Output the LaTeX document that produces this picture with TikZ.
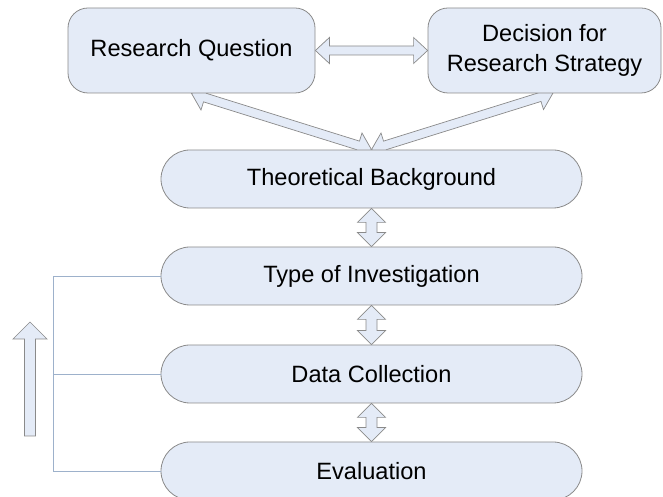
\documentclass[tikz,border=0pt]{standalone}
\usepackage{fontspec}
\setmainfont{Liberation Sans}
\usetikzlibrary{calc}
\definecolor{boxfill}{HTML}{E4EBF7}
\definecolor{boxline}{HTML}{8A8A8A}
\definecolor{fbline}{HTML}{9DB1CB}
\pgfdeclarelayer{bg}
\pgfsetlayers{bg,main}
\tikzset{
  box/.style={draw=boxline, fill=boxfill, line width=0.8pt, inner sep=0pt,
    font=\fontsize{23.6}{30.5}\selectfont, align=center},
  pill/.style={box, minimum width=421pt, minimum height=58pt, rounded corners=29pt},
  topbox/.style={box, minimum height=85pt, rounded corners=20pt},
  blockarr/.style={draw=boxline, fill=boxfill, line width=0.7pt, line join=miter},
  fb/.style={draw=fbline, line width=0.8pt}
}
\newcommand{\dblarrow}[4]{% from, to, shaft half width, head half width
  \path[blockarr] let \p1=($(#2)-(#1)$), \n1={atan2(\y1,\x1)}, \n2={veclen(\x1,\y1)} in
    [shift={(#1)}, rotate=\n1]
    (0,0) -- (14,#4) -- (14,#3) -- ({\n2-14},#3) -- ({\n2-14},#4) -- ({\n2},0)
    -- ({\n2-14},-#4) -- ({\n2-14},-#3) -- (14,-#3) -- (14,-#4) -- cycle;}
\begin{document}
\begin{tikzpicture}[x=1pt, y=1pt]
\useasboundingbox (0,0) rectangle (663,497);
% boxes
\node[topbox, minimum width=247pt] (RQ) at (191.5,446.5) {Research Question};
\node[topbox, minimum width=233pt] (DEC) at (544.5,446.5) {Decision for\\Research Strategy};
\node[pill] (TB) at (371.5,318) {Theoretical Background};
\node[pill] (TI) at (371.5,221) {Type of Investigation};
\node[pill] (DC) at (371.5,123) {Data Collection};
\node[pill] (EV) at (371.5,26) {Evaluation};
\coordinate (DECtip) at (553,404);
\coordinate (fbx) at (53,0);
% block arrows
\begin{pgfonlayer}{bg}
\dblarrow{RQ.east}{DEC.west}{4.5}{13}
\dblarrow{RQ.south}{TB.north}{4.5}{13}
\dblarrow{DECtip}{TB.north}{4.5}{13}
\dblarrow{TB.south}{TI.north}{5.5}{14}
\dblarrow{TI.south}{DC.north}{5.5}{14}
\dblarrow{DC.south}{EV.north}{5.5}{14}
\end{pgfonlayer}
% feedback lines
\draw[fb] (TI.west) -- (TI.west -| fbx) -- (EV.west -| fbx) -- (EV.west);
\draw[fb] (DC.west) -- (DC.west -| fbx);
% up arrow
\path[blockarr] (24.5,61) -- (35.5,61) -- (35.5,158) -- (47,158) -- (30,175)
  -- (13,158) -- (24.5,158) -- cycle;
\end{tikzpicture}
\end{document}
